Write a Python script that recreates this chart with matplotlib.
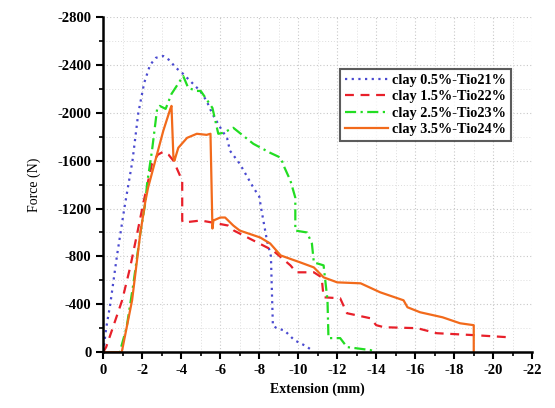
import matplotlib
matplotlib.use("Agg")
import matplotlib.pyplot as plt
from matplotlib.ticker import MultipleLocator

plt.rcParams['font.family'] = ['Liberation Serif', 'DejaVu Serif']
plt.rcParams['axes.unicode_minus'] = False

# clay 0.5% - TiO2 1%
x1 = [0, -0.15, -0.36, -0.7, -1.08, -1.5, -1.8, -2.1, -2.4, -2.7, -3.08, -3.4, -3.7, -4.05,
      -4.5, -4.97, -5.3, -5.6, -6.1, -6.35, -6.5, -7.0, -7.7, -8.0, -8.1, -8.4, -8.6, -8.65,
      -8.7, -8.9, -9.3, -9.8, -10.4, -10.7]
y1 = [0, -200, -400, -800, -1200, -1600, -2000, -2250, -2400, -2460, -2475, -2440, -2380, -2333,
      -2260, -2183, -2100, -1990, -1850, -1790, -1683, -1575, -1375, -1300, -1200, -930, -800, -500,
      -220, -200, -180, -100, -50, -15]

# clay 1.5% - TiO2 2%
x2 = [0, -0.15, -0.5, -0.97, -1.38, -1.74, -2.05, -2.5, -2.8, -3.08, -3.35, -3.6, -4.05, -4.05,
      -4.1, -5.0, -5.6, -6.4, -6.7, -7.7, -8.7, -9.6, -9.9, -10.8, -11.2, -11.3, -12.15, -12.5,
      -13.7, -14.0, -14.4, -16.1, -17.1, -19.0, -20.7]
y2 = [0, -42, -208, -433, -708, -991, -1241, -1575, -1650, -1675, -1650, -1600, -1433, -1100,
      -1083, -1100, -1083, -1058, -1016, -933, -850, -725, -667, -667, -625, -458, -450, -325,
      -283, -225, -208, -200, -158, -142, -125]

# clay 2.5% - TiO2 3%
x3 = [0, -0.85, -1.2, -1.55, -1.9, -2.15, -2.25, -2.5, -2.77, -2.9, -3.2, -3.5, -4.1, -4.36,
      -4.8, -5.0, -5.6, -5.9, -6.15, -6.67, -7.7, -8.56, -9.1, -9.3, -9.6, -9.85, -9.85, -10.45,
      -10.7, -10.8, -11.3, -11.5, -11.55, -12.15, -12.5, -13.7, -14.0]
y3 = [0, 0, -208, -575, -991, -1241, -1408, -1683, -2041, -2058, -2033, -2158, -2308, -2208,
      -2183, -2183, -2041, -1825, -1833, -1875, -1741, -1666, -1625, -1541, -1433, -1291, -1016, -1000,
      -908, -750, -725, -433, -117, -117, -42, -17, 0]

# clay 3.5% - TiO2 4%
x4 = [0, -0.95, -1.48, -1.9, -2.15, -2.3, -2.67, -3.08, -3.44, -3.5, -3.6, -3.65, -3.85, -4.3,
      -4.8, -5.3, -5.5, -5.6, -5.65, -6.0, -6.25, -6.67, -7.0, -8.05, -8.56, -9.1, -10.1, -10.8,
      -11.3, -12.0, -13.2, -14.2, -15.4, -15.6, -16.25, -17.4, -18.3, -19.0, -19.0]
y4 = [0, 0, -433, -991, -1250, -1375, -1600, -1850, -2033, -2058, -1625, -1600, -1708, -1791,
      -1825, -1816, -1825, -1033, -1100, -1125, -1125, -1058, -1016, -958, -908, -808, -750, -708,
      -625, -583, -575, -500, -433, -375, -333, -291, -241, -225, 0]

labels = ['clay 0.5%-Tio21%', 'clay 1.5%-Tio22%', 'clay 2.5%-Tio23%', 'clay 3.5%-Tio24%']

fig = plt.figure(figsize=(5.55, 4.08), dpi=100)
ax = fig.add_axes([0.186, 0.137, 0.773, 0.821])

ax.plot(x1, y1, color='#4a4ad0', linestyle=(0, (1, 2)), lw=1.6, label=labels[0])
ax.plot(x2, y2, color='#e8202a', linestyle=(0, (4, 3)), lw=1.6, label=labels[1])
ax.plot(x3, y3, color='#22dd22', linestyle=(0, (5, 2, 1, 2)), lw=1.6, label=labels[2])
ax.plot(x4, y4, color='#f26a1b', linestyle='-', lw=1.6, label=labels[3])

ax.set_xlim(0, -22)
ax.set_ylim(0, -2800)
ax.xaxis.set_major_locator(MultipleLocator(2))
ax.xaxis.set_minor_locator(MultipleLocator(1))
ax.yaxis.set_major_locator(MultipleLocator(400))
ax.yaxis.set_minor_locator(MultipleLocator(200))

ax.grid(which='major', color='#c8c8c8', linestyle=(0, (1, 2)), lw=0.8)
ax.grid(which='minor', color='#dddddd', linestyle=(0, (1, 2)), lw=0.7)
ax.set_axisbelow(True)

for s in ['top', 'right']:
    ax.spines[s].set_visible(False)
for s in ['left', 'bottom']:
    ax.spines[s].set_linewidth(1.8)

ax.tick_params(which='major', direction='out', length=5, width=1.5, labelsize=10.5)
ax.tick_params(which='minor', direction='out', length=3, width=1.2)
for t in ax.get_xticklabels() + ax.get_yticklabels():
    t.set_fontweight('bold')

ax.set_xlabel('Extension (mm)', fontsize=10, fontweight='bold')
ax.set_ylabel('Force (N)', fontsize=10, labelpad=12)

leg = ax.legend(loc='upper left', bbox_to_anchor=(0.535, 0.868),
                prop={'size': 10.3, 'weight': 'bold'},
                frameon=True, fancybox=False, edgecolor='#333333', handlelength=3,
                handletextpad=0.3, labelspacing=0.25, borderpad=0.35)
leg.get_frame().set_linewidth(1.5)

fig.savefig('out.png', dpi=100)
